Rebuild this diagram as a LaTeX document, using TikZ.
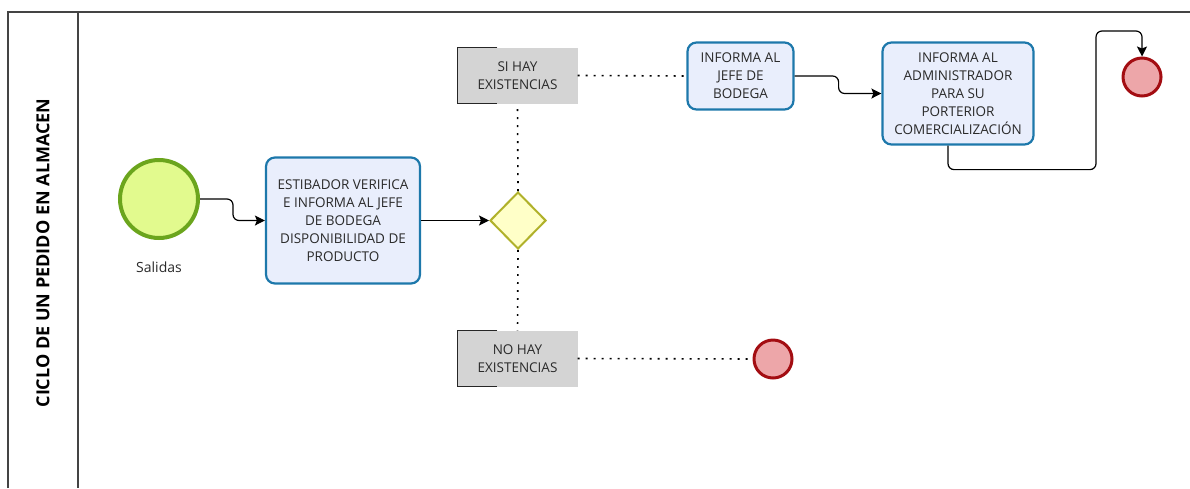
\documentclass[tikz,border=0pt]{standalone}
\usepackage{fontspec}
\setmainfont{Open Sans}
\usetikzlibrary{shapes.geometric,arrows.meta}
\definecolor{taskline}{HTML}{1D78AB}
\definecolor{taskfill}{HTML}{E9EEFC}
\definecolor{startline}{HTML}{6BA51D}
\definecolor{startfill}{HTML}{E2FA8E}
\definecolor{endline}{HTML}{A30D12}
\definecolor{endfill}{HTML}{EDA6A9}
\definecolor{gateline}{HTML}{B0B12A}
\definecolor{gatefill}{HTML}{FFFFC8}
\definecolor{notefill}{HTML}{D4D4D4}
\definecolor{txt}{HTML}{2A2A2A}
\definecolor{frame}{HTML}{444444}
\begin{document}
\begin{tikzpicture}[x=1pt,y=-1pt,
		task/.style={draw=taskline, fill=taskfill, line width=2.2pt, rounded corners=9pt, align=center, text=txt, font=\fontsize{13.5}{18}\selectfont, inner sep=0pt},
		note/.style={fill=notefill, align=center, text=txt, font=\fontsize{13.5}{18}\selectfont, inner sep=0pt, minimum width=120, minimum height=56},
		startev/.style={circle, draw=startline, fill=startfill, line width=4pt, minimum size=78, inner sep=0pt},
		endev/.style={circle, draw=endline, fill=endfill, line width=3pt, minimum size=38, inner sep=0pt},
		gateway/.style={diamond, draw=gateline, fill=gatefill, line width=2pt, minimum width=56, minimum height=57, inner sep=0pt},
		flow/.style={draw=black, line width=1.2pt, rounded corners=6pt, -{Stealth[length=10pt,width=10pt,inset=2pt]}},
		link/.style={draw=black, line width=1.6pt, dash pattern=on 1.8pt off 6.2pt},
		bracket/.style={draw=black!85, line width=1.4pt}]
		\useasboundingbox (0,0) rectangle (1190,488);
		\draw[frame, line width=1.3pt] (8,488) -- (8,12) -- (1190,12);
		\draw[frame, line width=1.3pt] (78,12) -- (78,488);
		\node[rotate=90, font=\bfseries\fontsize{18}{20}\selectfont, text=black] (lane) at (43,253) {CICLO DE UN PEDIDO EN ALMACEN};

		\node[startev] (start) at (159,199) {};
		\node[font=\fontsize{14}{16}\selectfont, text=txt] (salidas) at (159,267) {Salidas};
		\node[task, minimum width=154, minimum height=126] (verifica) at (343,220.5) {ESTIBADOR VERIFICA\\E INFORMA AL JEFE\\DE BODEGA\\DISPONIBILIDAD DE\\PRODUCTO};
		\node[gateway] (gate) at (518,220.5) {};
		\node[note] (si) at (517.5,75.5) {SI HAY\\EXISTENCIAS};
		\node[note] (no) at (517.5,358.5) {NO HAY\\EXISTENCIAS};
		\node[task, minimum width=106, minimum height=67] (jefe) at (740.5,76) {INFORMA AL\\JEFE DE\\BODEGA};
		\node[task, minimum width=151, minimum height=102] (admin) at (958,93.5) {INFORMA AL\\ADMINISTRADOR\\PARA SU\\PORTERIOR\\COMERCIALIZACIÓN};
		\node[endev] (fin1) at (1142,77) {};
		\node[endev] (fin2) at (773,359) {};
		\coordinate (vuelta) at (1096,31);

		% corchetes de las anotaciones
		\draw[bracket] ([xshift=40]si.north west) -- (si.north west) -- (si.south west) -- ([xshift=40]si.south west);
		\draw[bracket] ([xshift=40]no.north west) -- (no.north west) -- (no.south west) -- ([xshift=40]no.south west);

		\draw[flow] (start.east) -- ++(33,0) |- (verifica.west);
		\draw[flow] (verifica.east) -- (gate.west);
		\draw[link] (gate.north) -- (si.south);
		\draw[link] (gate.south) -- (no.north);
		\draw[link] (si.east) -- (jefe.west);
		\draw[link] (no.east) -- (fin2.west);
		\draw[flow] (jefe.east) -- ++(44,0) |- (admin.west);
		\draw[flow] ([xshift=-10]admin.south) -- ++(0,24) -| (vuelta) -| (fin1.north);
	\end{tikzpicture}
\end{document}
